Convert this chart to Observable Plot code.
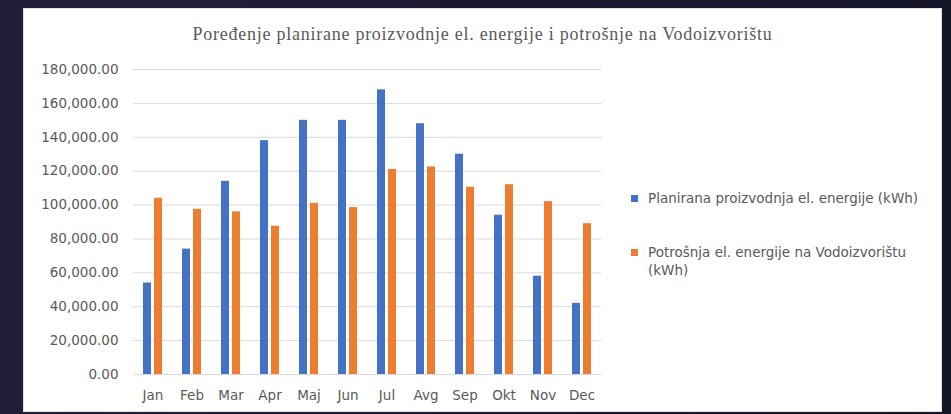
<!DOCTYPE html>
<html>
<head>
<meta charset="utf-8">
<script src="https://cdn.jsdelivr.net/npm/d3@7"></script>
<script src="https://cdn.jsdelivr.net/npm/@observablehq/plot@0.6"></script>
<style>
  html, body { margin: 0; padding: 0; }
  body {
    width: 951px; height: 414px; overflow: hidden;
    background: linear-gradient(90deg, #221d3a 0%, #1b1a33 50%, #141628 100%);
    position: relative;
  }
  #panel {
    position: absolute; left: 23px; top: 8px; width: 919px; height: 404px;
    background: #ffffff; border: 1px solid #e0e0e0; box-sizing: border-box;
  }
  #title {
    height: 40px; line-height: 50px; text-align: center;
    font-family: "Liberation Serif", "DejaVu Serif", serif; font-size: 18px; letter-spacing: 0.75px; color: #595959;
    white-space: nowrap;
  }
  #chart { position: absolute; left: 0; top: 40px; }
  #legend {
    position: absolute; left: 607px; top: 180px;
    font-family: "DejaVu Sans", sans-serif; font-size: 13.5px; color: #595959;
  }
  .item { position: relative; padding-left: 17px; line-height: 18px; margin-bottom: 36px; white-space: nowrap; }
  .sw { position: absolute; left: 0; top: 6px; width: 7px; height: 7px; }
</style>
</head>
<body>
<div id="panel">
  <div id="title">Poređenje planirane proizvodnje el. energije i potrošnje na Vodoizvorištu</div>
  <div id="chart"></div>
  <div id="legend"></div>
</div>
<script>
const months = ["Jan","Feb","Mar","Apr","Maj","Jun","Jul","Avg","Sep","Okt","Nov","Dec"];
const production = [54000, 74000, 114000, 138000, 150000, 150000, 168000, 148000, 130000, 94000, 58000, 42000];
const consumption = [104000, 97500, 96000, 87500, 101000, 98500, 121000, 122500, 110500, 112000, 102000, 89000];
const seriesNames = ["Planirana proizvodnja el. energije (kWh)", "Potrošnja el. energije na Vodoizvorištu (kWh)"];
const seriesColors = ["#4472C4", "#ED7D31"];
const yTicks = [0, 20000, 40000, 60000, 80000, 100000, 120000, 140000, 160000, 180000];

const data = [];
months.forEach((m, i) => {
  data.push({month: m, series: seriesNames[0], value: production[i]});
  data.push({month: m, series: seriesNames[1], value: consumption[i]});
});

const chart = Plot.plot({
  width: 600,
  height: 362,
  marginLeft: 106,
  marginRight: 21,
  marginTop: 20,
  marginBottom: 37,
  style: {fontFamily: "DejaVu Sans, sans-serif", fontSize: "13.5px", color: "#595959", background: "transparent"},
  fx: {domain: months, padding: 0, label: null},
  x: {domain: seriesNames, paddingInner: 0.28, paddingOuter: 0.85, axis: null},
  y: {domain: [0, 180000], label: null},
  color: {domain: seriesNames, range: seriesColors},
  marks: [
    Plot.gridY(yTicks, {stroke: "#d9d9d9", strokeOpacity: 1}),
    Plot.barY(data, {fx: "month", x: "series", y: "value", fill: "series"}),
    Plot.axisY(yTicks, {tickSize: 0, tickPadding: 15, tickFormat: d3.format(",.2f"), label: null, fill: "#595959"}),
    Plot.axisFx({anchor: "bottom", tickSize: 0, tickPadding: 16, label: null, fill: "#595959"})
  ]
});
document.getElementById("chart").appendChild(chart);

const legend = document.getElementById("legend");
const labels = ["Planirana proizvodnja el. energije (kWh)", "Potrošnja el. energije na Vodoizvorištu<br>(kWh)"];
labels.forEach((t, i) => {
  const d = document.createElement("div");
  d.className = "item";
  d.innerHTML = `<span class="sw" style="background:${seriesColors[i]}"></span>${t}`;
  legend.appendChild(d);
});
</script>
</body>
</html>
